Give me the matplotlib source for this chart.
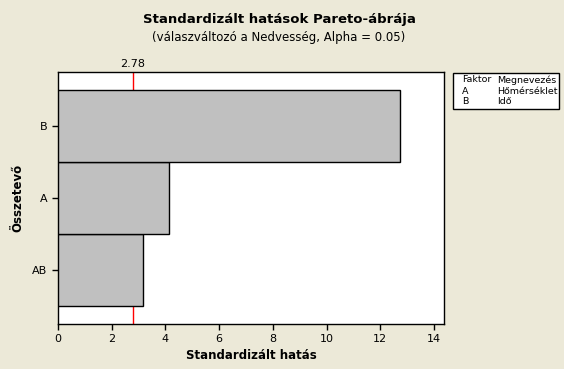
import matplotlib.pyplot as plt

# effects, sorted as drawn (bottom to top)
terms = ["AB", "A", "B"]
effects = [3.16, 4.13, 12.73]
ref_value = 2.78
xticks = [0, 2, 4, 6, 8, 10, 12, 14]
legend_rows = [("Faktor", "Megnevezés"), ("A", "Hőmérséklet"), ("B", "Idő")]

bg = "#ECE9D8"
plt.rcParams['font.family'] = ['DejaVu Sans']

fig = plt.figure(figsize=(5.64, 3.69), dpi=100, facecolor=bg)
ax = fig.add_axes([58/564, 45/369, 386/564, 252/369])

pos = list(range(len(terms)))
ax.barh(pos, effects, height=1.0, color="#C0C0C0", edgecolor="black", linewidth=1, zorder=3)
ax.axvline(ref_value, color="#FF0000", linewidth=1, zorder=2)

ax.set_xlim(0, 14.37)
ax.set_ylim(-0.75, 2.75)
ax.set_xticks(xticks)
ax.set_yticks(pos)
ax.set_yticklabels(terms)
ax.tick_params(direction="out", length=4, width=1, labelsize=8, colors="black")
for s in ax.spines.values():
    s.set_linewidth(1)

# reference value label on top
ax.text(ref_value, 1.012, "%.2f" % ref_value, transform=ax.get_xaxis_transform(),
        ha="center", va="bottom", fontsize=8)

ax.set_xlabel("Standardizált hatás", fontsize=8.5, fontweight="bold", labelpad=3)
ax.set_ylabel("Összetevő", fontsize=8.5, fontweight="bold")
ax.yaxis.set_label_coords(-0.088, 0.5)

fig.text(279/564, 1 - 20/369, "Standardizált hatások Pareto-ábrája", ha="center", va="center",
         fontsize=9.5, fontweight="bold")
fig.text(279/564, 1 - 38/369, "(válaszváltozó a Nedvesség, Alpha = 0.05)", ha="center", va="center",
         fontsize=8.5)

# factor legend box
box = plt.Rectangle((453/564, 1 - 109/369), 106/564, 36/369, transform=fig.transFigure,
                    facecolor="white", edgecolor="black", linewidth=1)
fig.patches.append(box)
for i, (a, b) in enumerate(legend_rows):
    y = 1 - (80 + i * 11) / 369
    fig.text(462/564, y, a, fontsize=6.8, va="center")
    fig.text(497/564, y, b, fontsize=6.8, va="center")

fig.savefig("out.png", dpi=100, facecolor=bg)
